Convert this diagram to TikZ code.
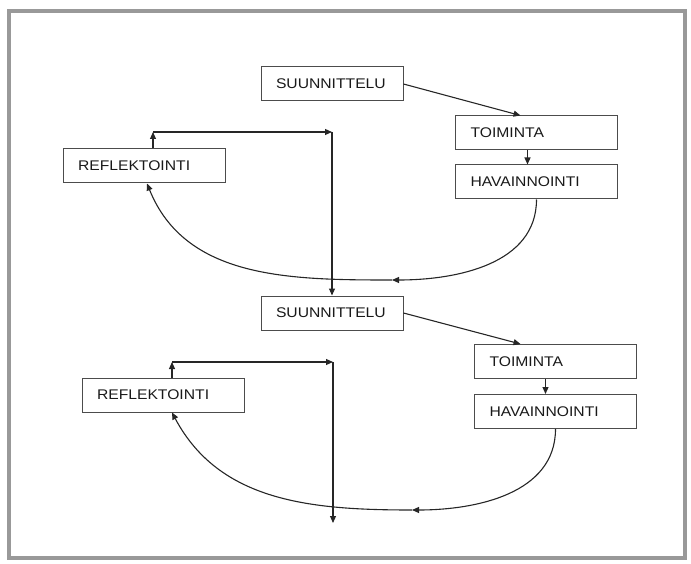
\documentclass[tikz,border=0pt]{standalone}
\usepackage{fontspec}
\usetikzlibrary{arrows.meta}
\newfontfamily\boxfont[FakeStretch=1.12]{Liberation Sans}

\begin{document}
\begin{tikzpicture}[x=1pt,y=-1pt,->,>={Triangle[length=7pt,width=6pt]},line width=1.1pt,draw=black!85,node distance=49,
    box node/.style={rectangle,draw=black!70,line width=1pt,minimum height=34,inner xsep=15,align=left,text width=132,font=\boxfont\fontsize{14}{16}\selectfont,text=black!90},
    short node/.style={box node,text width=112}]
    \useasboundingbox (0,0) rectangle (691,564);
    \draw[-,line width=4,black!40] (9,11) rectangle (685,558);

    % first round
    \node [short node](1) at (332,84){SUUNNITTELU};
    \node [box node](2) at (536.5,133){TOIMINTA};
    \node [box node](3) [below of=2]{HAVAINNOINTI};
    \node [box node](4) at (144,166){REFLEKTOINTI};

    % second round
    \node [short node](5) at (332,313){SUUNNITTELU};
    \node [box node](6) at (555.5,361.5){TOIMINTA};
    \node [box node](7) [below of=6, yshift=-1]{HAVAINNOINTI};
    \node [box node](8) at (163,395){REFLEKTOINTI};

    \coordinate (c1) at (392,280);
    \coordinate (c2) at (153,132);
    \coordinate (c3) at (332,132);
    \coordinate (c4) at (412,510);
    \coordinate (c5) at (172,362);
    \coordinate (c6) at (333,362);
    \coordinate (c7) at (333,523);

    \path
        (1.east) edge ([xshift=-16]2.north)
        ([xshift=-9]2.south) edge ([xshift=-9]3.north)
        (3.south) edge[out=-90, in=0] (c1)
        (c1) edge[out=180, in=-68] ([xshift=3]4.south)
        ([xshift=9]4.north) edge (c2)
        (c2) edge (c3)
        (c3) edge (5.north)
        (5.east) edge ([xshift=-35]6.north)
        ([xshift=-10]6.south) edge ([xshift=-10]7.north)
        (7.south) edge[out=-90, in=0] (c4)
        (c4) edge[out=180, in=-62] ([xshift=9]8.south)
        ([xshift=9]8.north) edge (c5)
        (c5) edge (c6)
        (c6) edge (c7)
        ;
\end{tikzpicture}
\end{document}
